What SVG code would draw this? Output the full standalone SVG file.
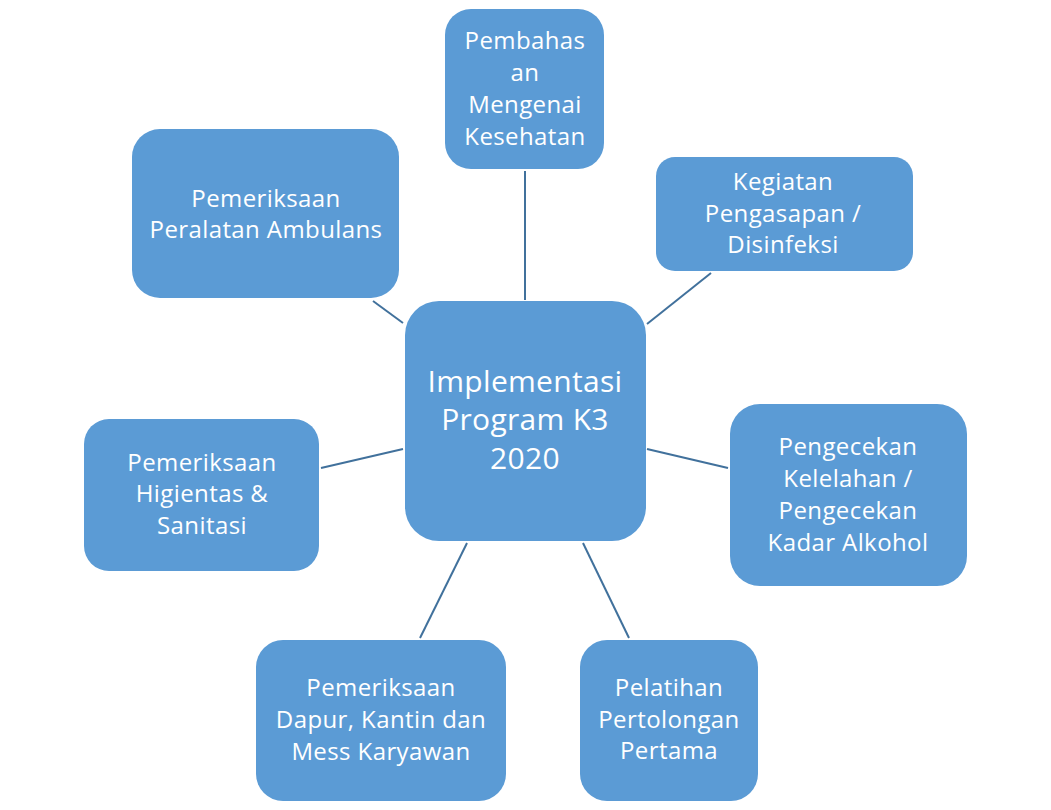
<svg xmlns="http://www.w3.org/2000/svg" width="1051" height="810" viewBox="0 0 1051 810">
<style>
.box{fill:#5B9BD5;}
.t{fill:#ffffff;font-family:"Open Sans","Noto Sans","Liberation Sans",sans-serif;font-size:24px;letter-spacing:0.4px;text-anchor:middle;}
.big{font-size:30px;letter-spacing:0.3px;}
.c{stroke:#41719C;stroke-width:2;fill:none;}
</style>
<rect width="1051" height="810" fill="#ffffff"/>
<g id="connectors">
<line class="c" x1="525" y1="171" x2="525" y2="300"/>
<line class="c" x1="373" y1="301" x2="403" y2="323"/>
<line class="c" x1="647" y1="324" x2="711" y2="273"/>
<line class="c" x1="647" y1="449" x2="728" y2="468"/>
<line class="c" x1="583" y1="543" x2="629" y2="638"/>
<line class="c" x1="467" y1="543" x2="420" y2="638"/>
<line class="c" x1="403" y1="449" x2="321" y2="468"/>
</g>
<g id="center">
<rect class="box" x="405" y="301" width="241" height="240" rx="34"/>
<text class="t big" x="525" y="392">Implementasi</text>
<text class="t big" x="525" y="430">Program K3</text>
<text class="t big" x="525" y="469">2020</text>
</g>
<g id="n-top">
<rect class="box" x="445" y="9" width="159" height="160" rx="26"/>
<text class="t" x="525" y="49">Pembahas</text>
<text class="t" x="525" y="81">an</text>
<text class="t" x="525" y="113">Mengenai</text>
<text class="t" x="525" y="145">Kesehatan</text>
</g>
<g id="n-topleft">
<rect class="box" x="132" y="129" width="267" height="169" rx="28"/>
<text class="t" x="266" y="207">Pemeriksaan</text>
<text class="t" x="266" y="238">Peralatan Ambulans</text>
</g>
<g id="n-topright">
<rect class="box" x="656" y="157" width="257" height="114" rx="19"/>
<text class="t" x="783" y="190">Kegiatan</text>
<text class="t" x="783" y="222">Pengasapan /</text>
<text class="t" x="783" y="253">Disinfeksi</text>
</g>
<g id="n-right">
<rect class="box" x="730" y="404" width="237" height="182" rx="30"/>
<text class="t" x="848" y="455">Pengecekan</text>
<text class="t" x="848" y="487">Kelelahan /</text>
<text class="t" x="848" y="519">Pengecekan</text>
<text class="t" x="848" y="551">Kadar Alkohol</text>
</g>
<g id="n-bottomright">
<rect class="box" x="580" y="640" width="178" height="161" rx="27"/>
<text class="t" x="669" y="696">Pelatihan</text>
<text class="t" x="669" y="728">Pertolongan</text>
<text class="t" x="669" y="759">Pertama</text>
</g>
<g id="n-bottomleft">
<rect class="box" x="256" y="640" width="250" height="161" rx="27"/>
<text class="t" x="381" y="696">Pemeriksaan</text>
<text class="t" x="381" y="728">Dapur, Kantin dan</text>
<text class="t" x="381" y="760">Mess Karyawan</text>
</g>
<g id="n-left">
<rect class="box" x="84" y="419" width="235" height="152" rx="25"/>
<text class="t" x="202" y="471">Pemeriksaan</text>
<text class="t" x="202" y="502">Higientas &amp;</text>
<text class="t" x="202" y="534">Sanitasi</text>
</g>
</svg>
